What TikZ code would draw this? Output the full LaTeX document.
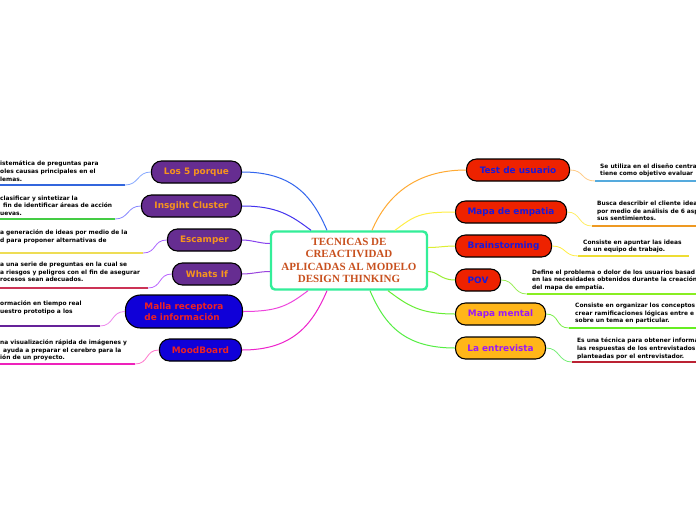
\documentclass[tikz,border=0pt]{standalone}
\usepackage{fontspec}
\setmainfont{DejaVu Sans}
\newfontfamily\serifb{Liberation Serif}
\usetikzlibrary{calc}
\definecolor{purpfill}{HTML}{662D91}
\definecolor{orangetxt}{HTML}{F7941D}
\definecolor{bluefill}{HTML}{1000D8}
\definecolor{redtxt}{HTML}{EE2222}
\definecolor{redfill}{HTML}{EE2200}
\definecolor{bluetxt}{HTML}{1A1ADB}
\definecolor{orfill}{HTML}{FFB619}
\definecolor{purtxt}{HTML}{9B19F5}
\definecolor{cgreen}{HTML}{33EE99}
\definecolor{ctext}{HTML}{C8501E}
\begin{document}
\begin{tikzpicture}[x=1pt,y=-1pt,
  lbl/.style={draw=black, line width=1.1pt, rounded corners=10pt, minimum height=22pt, inner sep=0pt, font=\fontsize{8.9}{10.5}\selectfont\bfseries},
  leftn/.style={lbl, fill=purpfill, text=orangetxt, anchor=east},
  bleftn/.style={lbl, fill=bluefill, text=redtxt, anchor=east},
  rightn/.style={lbl, fill=redfill, text=bluetxt, anchor=west},
  orightn/.style={lbl, fill=orfill, text=purtxt, anchor=west},
  desc/.style={inner sep=0pt, align=left, anchor=north west, font=\fontsize{5.9}{7.6}\selectfont\bfseries},
  uline/.style={line width=1.6pt},
  conn/.style={line width=1pt},
  sconn/.style={line width=0.8pt}
]
\useasboundingbox (0,0) rectangle (696,520);
\clip (0,0) rectangle (696,520);
\fill[white] (0,0) rectangle (696,520);

% center
\node[draw=cgreen, line width=2.4pt, rounded corners=4pt, fill=white, minimum width=156pt, minimum height=58pt, inner sep=0pt, align=center, text=ctext, font=\serifb\bfseries\fontsize{11}{12.3}\selectfont] (c) at (349,260.5) {TECNICAS DE\\CREACTIVIDAD\\APLICADAS AL MODELO\\DESIGN THINKING};

% left nodes
\node[leftn, minimum width=90pt] (los) at (242,172) {Los 5 porque};
\node[leftn, minimum width=100pt] (ins) at (242,206) {Insgiht Cluster};
\node[leftn, minimum width=74pt] (esc) at (242,240) {Escamper};
\node[leftn, minimum width=69pt] (wha) at (242,274) {Whats If};
\node[bleftn, minimum width=117pt, minimum height=33pt, rounded corners=15pt, align=left] (mal) at (243,311.5) {Malla receptora\\de información};
\node[bleftn, minimum width=82pt] (moo) at (242,350) {MoodBoard};

% right nodes
\node[rightn, minimum width=103pt] (tes) at (466,170) {Test de usuario};
\node[rightn, minimum width=111pt] (emp) at (455,212) {Mapa de empatia};
\node[rightn, minimum width=96pt] (bra) at (455,246) {Brainstorming};
\node[rightn, minimum width=45pt] (pov) at (455,280) {POV};
\node[orightn, minimum width=90pt] (mm) at (455,314) {Mapa mental};
\node[orightn, minimum width=90pt] (ent) at (455,348) {La entrevista};

% descriptions
\node[desc] (dlos) at (0,161) {istemática de preguntas para\\oles causas principales en el\\lemas.};
\node[desc] (dins) at (0,195.5) {clasificar y sintetizar la\\\hspace*{3pt}fin de identificar áreas de acción\\uevas.};
\node[desc] (desc) at (0,229.5) {a generación de ideas por medio de la\\d para proponer alternativas de};
\node[desc] (dwha) at (0,262) {a una serie de preguntas en la cual se\\a riesgos y peligros con el fin de asegurar\\rocesos sean adecuados.};
\node[desc] (dmal) at (0,301) {ormación en tiempo real\\uestro prototipo a los};
\node[desc] (dmoo) at (0,339.5) {na visualización rápida de imágenes y\\\hspace*{3pt}ayuda a preparar el cerebro para la\\ión de un proyecto.};

\node[desc] (dtes) at (600,163.5) {Se utiliza en el diseño centra\\tiene como objetivo evaluar};
\node[desc] (demp) at (597,201) {Busca describir el cliente idea\\por medio de análisis de 6 asp\\sus sentimientos.};
\node[desc] (dbra) at (583,239.5) {Consiste en apuntar las ideas\\de un equipo de trabajo.};
\node[desc] (dpov) at (532,269.5) {Define el problema o dolor de los usuarios basad\\en las necesidades obtenidos durante la creación\\del mapa de empatía.};
\node[desc] (dmm) at (575,303) {Consiste en organizar los conceptos\\crear ramificaciones lógicas entre e\\sobre un tema en particular.};
\node[desc] (dent) at (577,338) {Es una técnica para obtener informa\\las respuestas de los entrevistados\\planteadas por el entrevistador.};

% underline coordinates
\coordinate (ulos0) at (0,185);   \coordinate (ulos1) at (125,185);
\coordinate (uins0) at (0,219);   \coordinate (uins1) at (115,219);
\coordinate (uesc0) at (0,253);   \coordinate (uesc1) at (143,253);
\coordinate (uwha0) at (0,288);   \coordinate (uwha1) at (148,288);
\coordinate (umal0) at (0,326);   \coordinate (umal1) at (100,326);
\coordinate (umoo0) at (0,364);   \coordinate (umoo1) at (135,364);
\coordinate (utes0) at (595,181); \coordinate (utes1) at (696,181);
\coordinate (uemp0) at (592,226); \coordinate (uemp1) at (696,226);
\coordinate (ubra0) at (578,256); \coordinate (ubra1) at (689,256);
\coordinate (upov0) at (527,294); \coordinate (upov1) at (696,294);
\coordinate (umm0) at (569,328);  \coordinate (umm1) at (696,328);
\coordinate (uent0) at (572,362); \coordinate (uent1) at (696,362);

\draw[uline, color={rgb,255:red,51;green,102;blue,221}] (ulos0) -- (ulos1);
\draw[uline, color={rgb,255:red,68;green,204;blue,68}] (uins0) -- (uins1);
\draw[uline, color={rgb,255:red,238;green,221;blue,85}] (uesc0) -- (uesc1);
\draw[uline, color={rgb,255:red,204;green,51;blue,85}] (uwha0) -- (uwha1);
\draw[uline, color={rgb,255:red,102;green,34;blue,153}] (umal0) -- (umal1);
\draw[uline, color={rgb,255:red,238;green,34;blue,187}] (umoo0) -- (umoo1);
\draw[uline, color={rgb,255:red,85;green,170;blue,221}] (utes0) -- (utes1);
\draw[uline, color={rgb,255:red,238;green,153;blue,34}] (uemp0) -- (uemp1);
\draw[uline, color={rgb,255:red,238;green,221;blue,51}] (ubra0) -- (ubra1);
\draw[uline, color={rgb,255:red,136;green,238;blue,34}] (upov0) -- (upov1);
\draw[uline, color={rgb,255:red,102;green,238;blue,34}] (umm0) -- (umm1);
\draw[uline, color={rgb,255:red,187;green,34;blue,51}] (uent0) -- (uent1);

% node to underline S-curves
\draw[sconn, color={rgb,255:red,136;green,170;blue,255}] (los.west) .. controls +(-14,0) and +(14,0) .. (ulos1);
\draw[sconn, color={rgb,255:red,136;green,136;blue,255}] (ins.west) .. controls +(-14,0) and +(14,0) .. (uins1);
\draw[sconn, color={rgb,255:red,170;green,102;blue,255}] (esc.west) .. controls +(-14,0) and +(14,0) .. (uesc1);
\draw[sconn, color={rgb,255:red,187;green,102;blue,255}] (wha.west) .. controls +(-14,0) and +(14,0) .. (uwha1);
\draw[sconn, color={rgb,255:red,238;green,136;blue,238}] (mal.west) .. controls +(-14,0) and +(14,0) .. (umal1);
\draw[sconn, color={rgb,255:red,255;green,119;blue,204}] (moo.west) .. controls +(-14,0) and +(14,0) .. (umoo1);
\draw[sconn, color={rgb,255:red,255;green,204;blue,136}] (tes.east) .. controls +(14,0) and +(-14,0) .. (utes0);
\draw[sconn, color={rgb,255:red,255;green,238;blue,102}] (emp.east) .. controls +(14,0) and +(-14,0) .. (uemp0);
\draw[sconn, color={rgb,255:red,255;green,238;blue,68}] (bra.east) .. controls +(14,0) and +(-14,0) .. (ubra0);
\draw[sconn, color={rgb,255:red,153;green,238;blue,85}] (pov.east) .. controls +(14,0) and +(-14,0) .. (upov0);
\draw[sconn, color={rgb,255:red,119;green,238;blue,68}] (mm.east) .. controls +(14,0) and +(-14,0) .. (umm0);
\draw[sconn, color={rgb,255:red,119;green,238;blue,119}] (ent.east) .. controls +(14,0) and +(-14,0) .. (uent0);

% center connectors
\coordinate (clos) at ($(c.north)+(-22,0)$);
\coordinate (cins) at ($(c.north)+(-38,0)$);
\coordinate (cesc) at ($(c.west)+(0,-17)$);
\coordinate (cwha) at ($(c.west)+(0,11)$);
\coordinate (cmal) at ($(c.south)+(-41,0)$);
\coordinate (cmoo) at ($(c.south)+(-22,0)$);
\coordinate (ctes) at ($(c.north)+(23,0)$);
\coordinate (cemp) at ($(c.north)+(46,0)$);
\coordinate (cbra) at ($(c.east)+(0,-13)$);
\coordinate (cpov) at ($(c.east)+(0,11)$);
\coordinate (cmm) at ($(c.south)+(39,0)$);
\coordinate (cent) at ($(c.south)+(21,0)$);

\draw[conn, color={rgb,255:red,51;green,102;blue,238}] (clos) .. controls +(-15,-35) and +(50,0) .. (los.east);
\draw[conn, color={rgb,255:red,68;green,51;blue,238}] (cins) .. controls +(-20,-15) and +(35,0) .. (ins.east);
\draw[conn, color={rgb,255:red,136;green,68;blue,238}] (cesc) .. controls +(-10,0) and +(10,0) .. (esc.east);
\draw[conn, color={rgb,255:red,153;green,68;blue,221}] (cwha) .. controls +(-10,0) and +(10,0) .. (wha.east);
\draw[conn, color={rgb,255:red,238;green,68;blue,221}] (cmal) .. controls +(-20,15) and +(35,0) .. (mal.east);
\draw[conn, color={rgb,255:red,238;green,34;blue,204}] (cmoo) .. controls +(-15,35) and +(50,0) .. (moo.east);
\draw[conn, color={rgb,255:red,255;green,170;blue,51}] (ctes) .. controls +(15,-35) and +(-50,0) .. (tes.west);
\draw[conn, color={rgb,255:red,255;green,238;blue,68}] (cemp) .. controls +(20,-15) and +(-35,0) .. (emp.west);
\draw[conn, color={rgb,255:red,221;green,238;blue,51}] (cbra) .. controls +(10,0) and +(-10,0) .. (bra.west);
\draw[conn, color={rgb,255:red,153;green,238;blue,51}] (cpov) .. controls +(10,0) and +(-15,0) .. (pov.west);
\draw[conn, color={rgb,255:red,102;green,238;blue,51}] (cmm) .. controls +(20,15) and +(-35,0) .. (mm.west);
\draw[conn, color={rgb,255:red,85;green,238;blue,68}] (cent) .. controls +(15,35) and +(-50,0) .. (ent.west);
\end{tikzpicture}
\end{document}
